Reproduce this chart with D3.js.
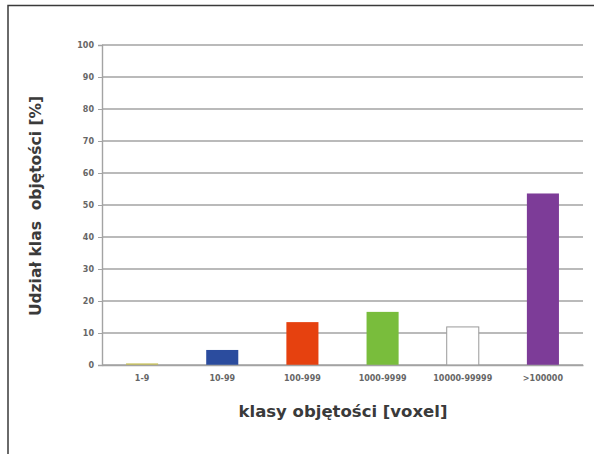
<!DOCTYPE html>
<html>
<head>
<meta charset="utf-8">
<script src="https://cdn.jsdelivr.net/npm/d3@7"></script>
<style>
  html, body { margin: 0; padding: 0; background: #fff; }
  svg { display: block; }
</style>
</head>
<body>
<svg id="chart" width="594" height="454"></svg>
<script>
// Volume classes (voxels) and their share in percent
const categories = ["1-9", "10-99", "100-999", "1000-9999", "10000-99999", ">100000"];
const shares = [0.5, 4.7, 13.4, 16.6, 11.9, 53.6];
const barColors = ["#c9c25a", "#2b4c9e", "#e6410f", "#79bd3c", "#ffffff", "#7d3c98"];
const yTicks = [0, 10, 20, 30, 40, 50, 60, 70, 80, 90, 100];

const FONT = "DejaVu Sans, Verdana, sans-serif";
const svg = d3.select("#chart");

// outer frame (left and top edges visible)
svg.append("path")
  .attr("d", "M8,454 L8,5.5 L594,5.5")
  .attr("fill", "none")
  .attr("stroke", "#3a3a3a")
  .attr("stroke-width", 1.5);

const plot = { left: 102, right: 583, top: 45, bottom: 365 };

const x = d3.scaleBand()
  .domain(categories)
  .range([plot.left, plot.right])
  .paddingInner(0.6)
  .paddingOuter(0.3);

const y = d3.scaleLinear()
  .domain([0, 100])
  .range([plot.bottom, plot.top]);

// horizontal gridlines
svg.append("g")
  .selectAll("line")
  .data(yTicks)
  .join("line")
  .attr("x1", plot.left)
  .attr("x2", plot.right)
  .attr("y1", d => y(d))
  .attr("y2", d => y(d))
  .attr("stroke", "#a3a3a3")
  .attr("stroke-width", 1.4);

// y axis
const yAxis = svg.append("g")
  .attr("transform", `translate(${plot.left},0)`)
  .call(d3.axisLeft(y).tickValues(yTicks).tickSize(4).tickPadding(4));
yAxis.select(".domain").attr("stroke", "#a3a3a3").attr("stroke-width", 1.4);
yAxis.selectAll(".tick line").attr("stroke", "#a3a3a3");
yAxis.selectAll("text")
  .attr("fill", "#666")
  .attr("font-family", FONT)
  .attr("font-size", 8)
  .attr("font-weight", "bold");

// bars
svg.append("g")
  .selectAll("rect")
  .data(categories.map((c, i) => ({ c, v: shares[i], col: barColors[i] })))
  .join("rect")
  .attr("x", d => x(d.c))
  .attr("width", x.bandwidth())
  .attr("y", d => y(d.v))
  .attr("height", d => y(0) - y(d.v))
  .attr("fill", d => d.col)
  .attr("stroke", d => d.col === "#ffffff" ? "#9a9a9a" : "none")
  .attr("stroke-width", 1);

// x axis
const xAxis = svg.append("g")
  .attr("transform", `translate(0,${plot.bottom})`)
  .call(d3.axisBottom(x).tickSize(0).tickPadding(10));
xAxis.select(".domain").attr("stroke", "#a3a3a3").attr("stroke-width", 1.4);
xAxis.selectAll("text")
  .attr("fill", "#666")
  .attr("font-family", FONT)
  .attr("font-size", 8)
  .attr("font-weight", "bold");

// axis titles
svg.append("text")
  .attr("x", 343)
  .attr("y", 417)
  .attr("text-anchor", "middle")
  .attr("font-family", FONT)
  .attr("font-size", 16.5)
  .attr("font-weight", "bold")
  .attr("fill", "#3a3a3a")
  .text("klasy objętości [voxel]");

svg.append("text")
  .attr("transform", "translate(41,206) rotate(-90)")
  .attr("text-anchor", "middle")
  .attr("font-family", FONT)
  .attr("font-size", 15.5)
  .attr("font-weight", "bold")
  .attr("fill", "#3a3a3a")
  .style("white-space", "pre")
  .text("Udział klas  objętości [%]");
</script>
</body>
</html>
